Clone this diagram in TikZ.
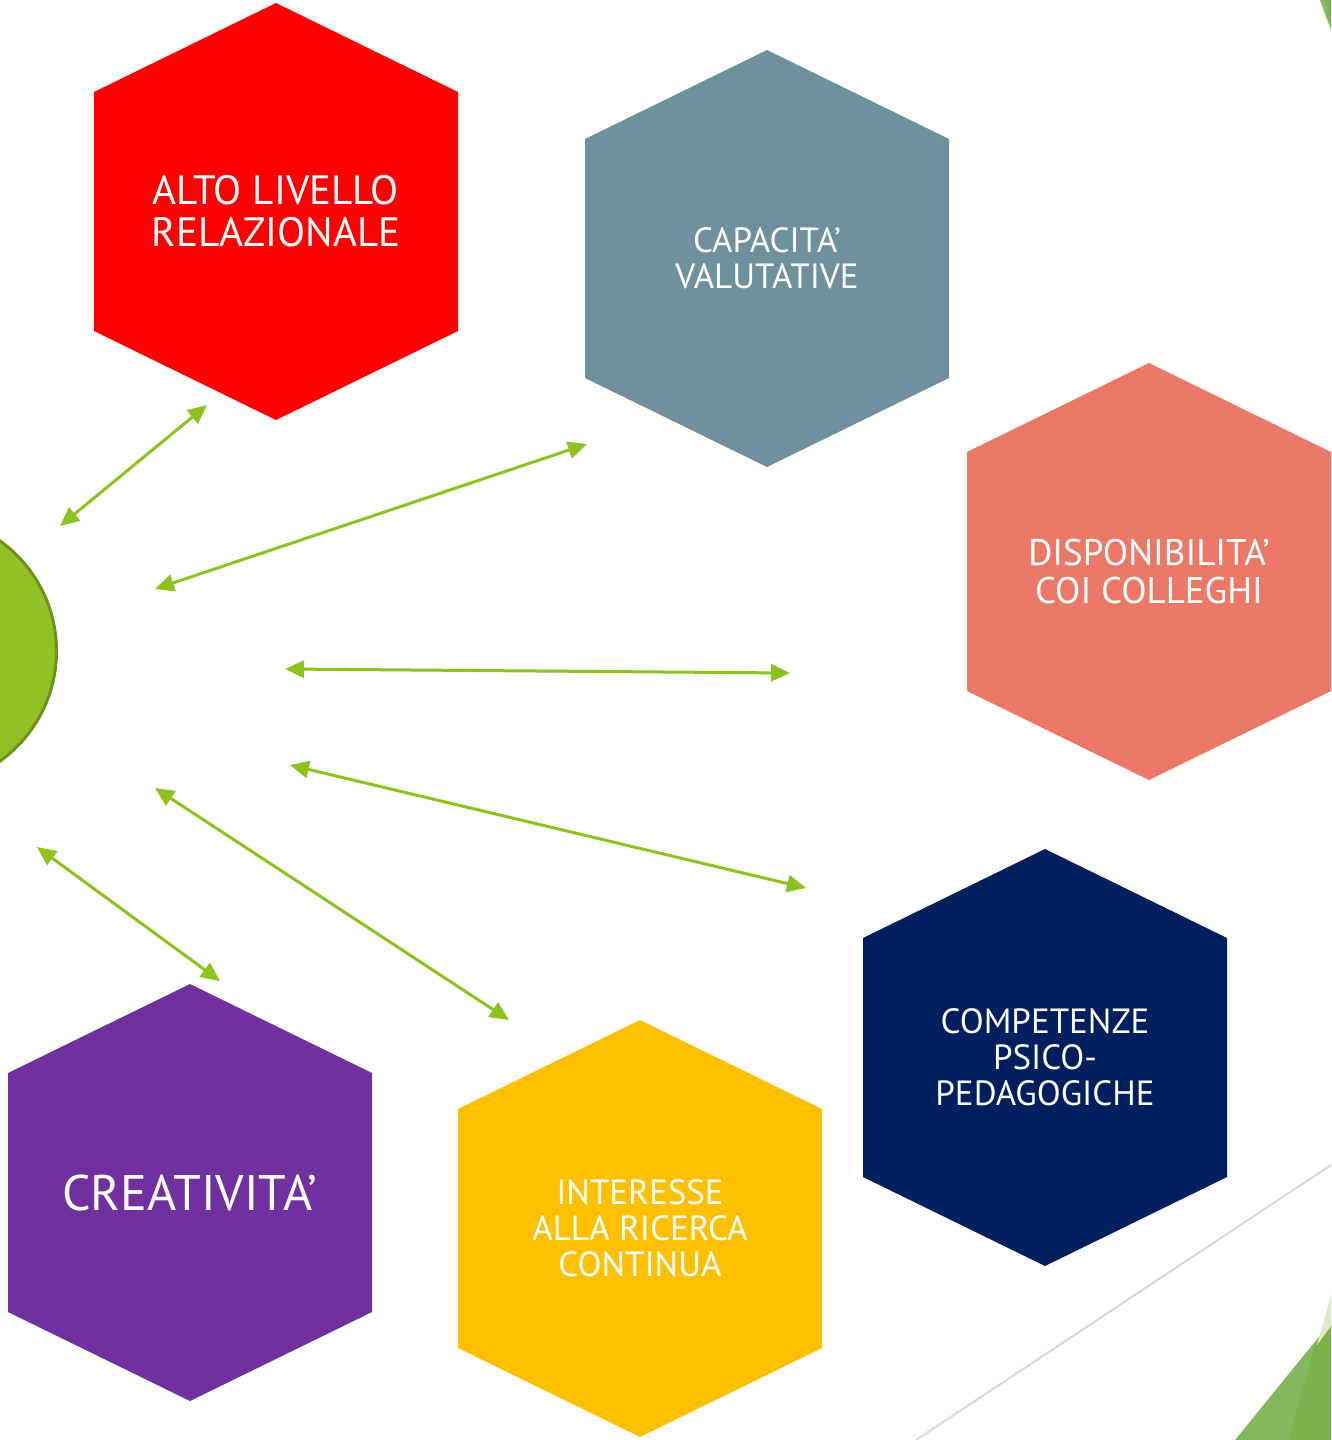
\documentclass[tikz,border=0pt]{standalone}
\usepackage{fontspec}
\setmainfont{PT Sans}
\usepackage{tikz}
\usetikzlibrary{arrows.meta,calc,positioning}

\definecolor{hexred}{HTML}{FF0000}
\definecolor{hexgrey}{HTML}{6F919E}
\definecolor{hexsalmon}{HTML}{EC7967}
\definecolor{hexnavy}{HTML}{001F5F}
\definecolor{hexyellow}{HTML}{FFC000}
\definecolor{hexpurple}{HTML}{7030A0}
\definecolor{linkgreen}{HTML}{8DC21F}
\definecolor{discgreen}{HTML}{92C125}
\definecolor{discedge}{HTML}{6C9419}
\definecolor{leafgreen}{HTML}{7BB24B}
\definecolor{leafmid}{HTML}{84B85E}
\definecolor{leafpale}{HTML}{DCEBC6}

% hexagon around a centre: #1 centre, #2 colour
\newcommand{\hexa}[2]{\fill[#2] ($(#1)+(0,-208.5)$) -- ++(182,89) -- ++(0,239)
  -- ++(-182,89) -- ++(-182,-89) -- ++(0,-239) -- cycle;}

\begin{document}
\begin{tikzpicture}[%
x=1pt,
y=-1pt,
>={Triangle[length=19pt,width=17pt]},
link/.style={<->, draw=linkgreen, line width=3pt},
lbl/.style={text=white, align=center, inner sep=0pt},
fsmall/.style={font=\fontsize{35}{36}\selectfont},
fmid/.style={font=\fontsize{37}{38}\selectfont},
fbig/.style={font=\fontsize{41}{42}\selectfont},
fhuge/.style={font=\fontsize{50}{52}\selectfont}
]
\useasboundingbox (0,0) rectangle (1331,1440);
\fill[white] (0,0) rectangle (1331,1440);
\clip (0,0) rectangle (1331,1440);

% corner decoration
\draw[gray!30, line width=2pt] (1331,1165) -- (916,1440);
\fill[leafmid] (1235,1440) -- (1331,1322) -- (1331,1440) -- cycle;
\fill[leafgreen] (1288,1440) -- (1315,1346) -- (1331,1326) -- (1331,1440) -- cycle;
\fill[leafpale] (1317,1345) -- (1331,1295) -- (1331,1326) -- cycle;
\fill[leafmid] (1320,0) -- (1331,0) -- (1331,30) -- cycle;
\fill[leafgreen] (1326,0) -- (1331,0) -- (1331,16) -- cycle;

% centre disc
\node[circle, fill=discgreen, draw=discedge, line width=3pt,
      minimum size=271pt, inner sep=0pt] (centro) at (-79,651) {};

% hexagons
\coordinate (calto) at (276,211.5);
\coordinate (ccapa) at (767,258.5);
\coordinate (cdisp) at (1149,571.5);
\coordinate (ccomp) at (1045,1057.5);
\coordinate (cinte) at (640,1228.5);
\coordinate (ccrea) at (190,1192.5);
\hexa{calto}{hexred}
\hexa{ccapa}{hexgrey}
\hexa{cdisp}{hexsalmon}
\hexa{ccomp}{hexnavy}
\hexa{cinte}{hexyellow}
\hexa{ccrea}{hexpurple}

\node[lbl, fbig] (alto) at (calto) {ALTO LIVELLO\\RELAZIONALE};
\node[lbl, fsmall] (capa) at (ccapa) {CAPACITA’\\VALUTATIVE};
\node[lbl, fmid] (disp) at (cdisp) {DISPONIBILITA’\\COI COLLEGHI};
\node[lbl, fsmall] (comp) at (ccomp) {COMPETENZE\\PSICO-\\PEDAGOGICHE};
\node[lbl, fsmall] (inte) at (cinte) {INTERESSE\\ALLA RICERCA\\CONTINUA};
\node[lbl, fhuge] (crea) at (ccrea) {CREATIVITA’};

% arrow ends
\coordinate (altoin) at (60,526);
\coordinate (altoout) at (207,405);
\coordinate (capain) at (155,589);
\coordinate (capaout) at (587,444);
\coordinate (dispin) at (285,669);
\coordinate (dispout) at (790,673);
\coordinate (compin) at (290,765);
\coordinate (compout) at (806,888);
\coordinate (intein) at (155,788);
\coordinate (inteout) at (509,1020);
\coordinate (creain) at (37,847);
\coordinate (creaout) at (220,981);

\draw[link] (altoin) -- (altoout);
\draw[link] (capain) -- (capaout);
\draw[link] (dispin) -- (dispout);
\draw[link] (compin) -- (compout);
\draw[link] (intein) -- (inteout);
\draw[link] (creain) -- (creaout);
\end{tikzpicture}
\end{document}
